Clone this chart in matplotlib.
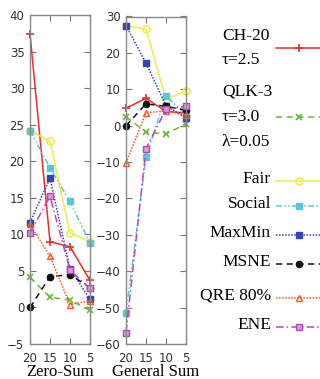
import matplotlib
matplotlib.use("Agg")
import matplotlib.pyplot as plt
from matplotlib.lines import Line2D

x_vals = [20, 15, 10, 5]

# Zero-Sum
zs_ch20 = [37.4, 9.0, 8.3, 3.7]
zs_qlk3 = [4.1, 1.4, 1.0, -0.4]
zs_fair = [24.2, 22.7, 10.2, 9.0]
zs_social = [24.2, 19.1, 14.5, 8.8]
zs_maxmin = [11.6, 17.7, 5.3, 1.1]
zs_msne = [0.0, 4.2, 4.5, 2.7]
zs_qre = [11.4, 7.0, 0.4, 0.9]
zs_ene = [10.2, 15.2, 5.1, 2.6]

# General Sum
gs_ch20 = [4.8, 7.5, 3.9, 3.5]
gs_qlk3 = [2.4, -1.7, -2.3, 0.5]
gs_fair = [27.5, 26.5, 7.3, 9.5]
gs_social = [-51.5, -8.6, 8.2, 3.0]
gs_maxmin = [27.5, 17.2, 5.5, 2.1]
gs_msne = [0.0, 6.0, 5.3, 4.3]
gs_qre = [-10.2, 3.6, 4.0, 2.9]
gs_ene = [-56.9, -6.3, 4.5, 5.3]

labels = ["CH-20\n\u03c4=2.5", "QLK-3\n\u03c4=3.0\n\u03bb=0.05", "Fair", "Social",
          "MaxMin", "MSNE", "QRE 80%", "ENE"]

styles = [
    dict(color="#ee2a2a", ls="-", marker="+", ms=6, mew=1.2),
    dict(color="#66bb33", ls=(0, (4, 3)), marker="x", ms=5, mew=1.2),
    dict(color="#eeee44", ls="-", marker="o", ms=5, mfc="none", mew=1.2),
    dict(color="#5ac8dc", ls=(0, (4, 1.5, 1, 1.5, 1, 1.5)), marker="s", ms=5),
    dict(color="#3344bb", ls=(0, (1, 1)), marker="s", ms=4.5),
    dict(color="#111111", ls=(0, (4, 3)), marker="o", ms=4.5),
    dict(color="#ff5522", ls=(0, (1, 1)), marker="^", ms=5, mfc="none", mew=1.0),
    dict(color="#bb44bb", ls=(0, (5, 2, 1, 2)), marker="s", ms=5, mfc="#dd99dd", mew=1.0),
]

zs = [zs_ch20, zs_qlk3, zs_fair, zs_social, zs_maxmin, zs_msne, zs_qre, zs_ene]
gs = [gs_ch20, gs_qlk3, gs_fair, gs_social, gs_maxmin, gs_msne, gs_qre, gs_ene]

fig = plt.figure(figsize=(3.2, 3.79), dpi=100)
W, H = 320, 379


def px_axes(x0, y0, x1, y1):
    return fig.add_axes([x0 / W, 1 - y1 / H, (x1 - x0) / W, (y1 - y0) / H])


ax1 = px_axes(30, 15, 90, 344)
ax2 = px_axes(126, 16.5, 186, 344)

for ax, data, ylim, yt, name in [
    (ax1, zs, (-5, 40), range(-5, 41, 5), "Zero-Sum"),
    (ax2, gs, (-60, 30), range(-60, 31, 10), "General Sum"),
]:
    for vals, st in zip(data, styles):
        ax.plot(x_vals, vals, lw=1.1, clip_on=False, **st)
    ax.set_xlim(20, 5)
    ax.set_ylim(*ylim)
    ax.set_xticks(x_vals)
    ax.set_yticks(list(yt))
    ax.tick_params(direction="in", top=True, right=True, length=4,
                   labelsize=8.5, labelcolor="#333333", color="#777777")
    ax.tick_params(axis="x", pad=6)
    ax.tick_params(axis="y", pad=4)
    for s in ax.spines.values():
        s.set_color("#888888")
        s.set_linewidth(1.0)
    ax.set_xlabel(name, family="Liberation Serif", fontsize=12, labelpad=-1)

# legend drawn by hand
lg = fig.add_axes([0, 0, 1, 1])
lg.set_xlim(0, W)
lg.set_ylim(H, 0)
lg.axis("off")
rows = [48, 117, 181, 206, 235, 264, 298, 327]
for lab, st, y in zip(labels, styles, rows):
    lg.add_line(Line2D([276, 299, 322], [y, y, y], lw=1.1, markevery=[1], **st))
    if "\n" in lab:
        lg.text(222, y, lab, family="Liberation Serif", fontsize=12.5,
                ha="left", va="center", linespacing=1.75)
    else:
        lg.text(271, y - 2, lab, family="Liberation Serif", fontsize=12.5,
                ha="right", va="center")

fig.savefig("out.png", dpi=100)
